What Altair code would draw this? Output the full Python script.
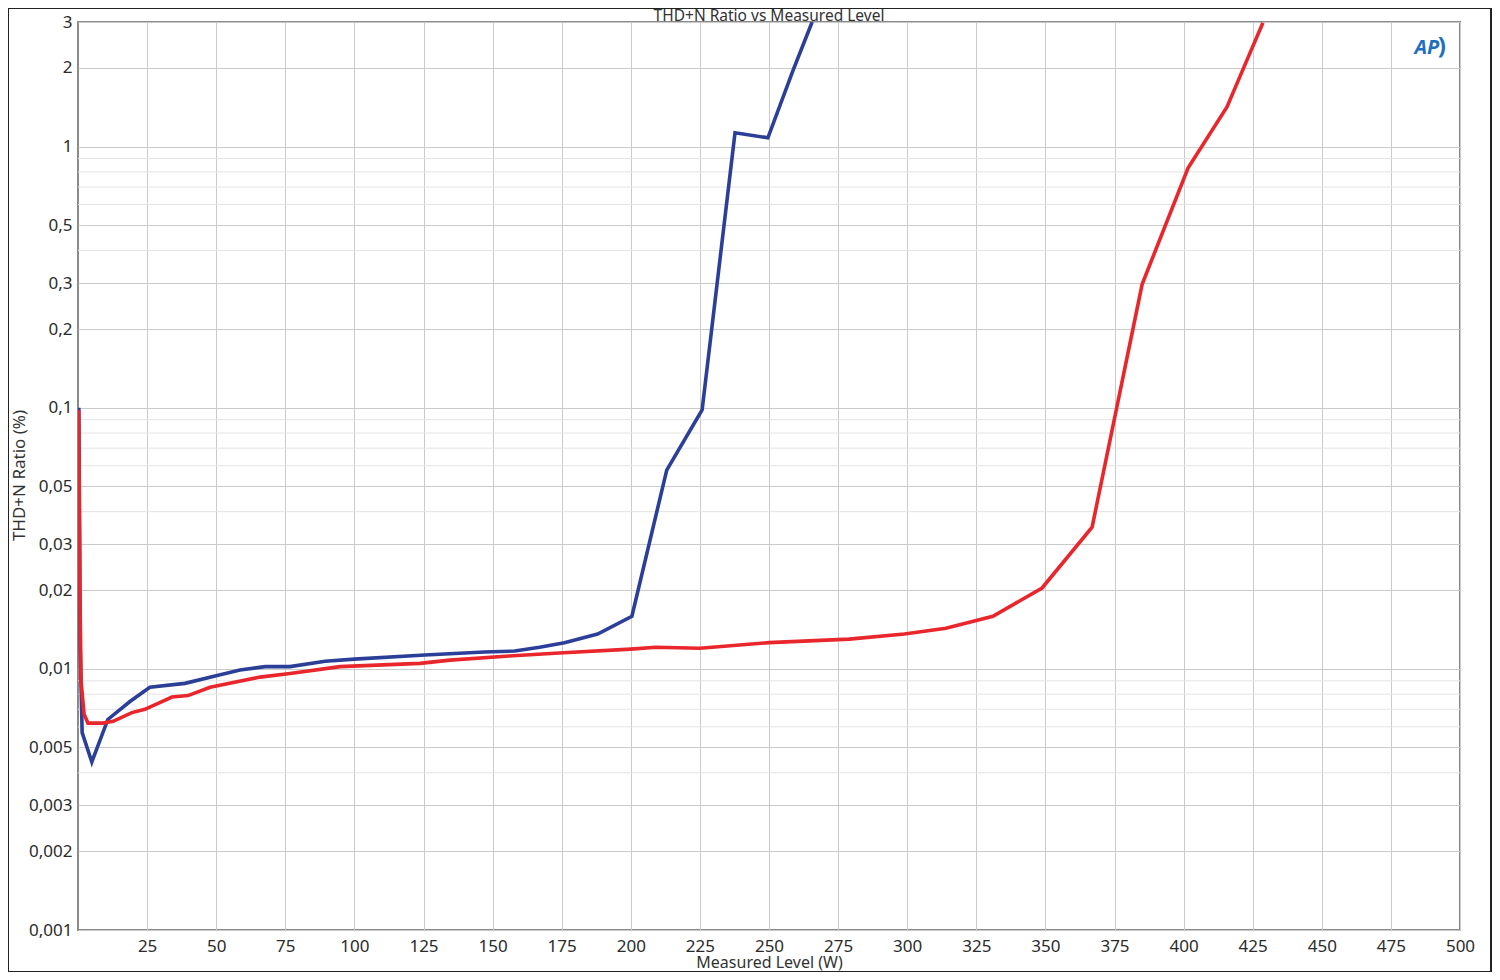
import altair as alt
import pandas as pd

# ---- data ----
blue_w = [0.3, 0.8, 1.5, 5.0, 10.8, 18.8, 26.0, 38.7, 49.6, 58.6, 67.7, 76.7, 89.4, 100.0,
          125.5, 147.0, 158.0, 167.0, 176.0, 188.0, 200.4, 213.0, 225.8, 237.7, 249.6, 258.7, 265.6]
blue_thd = [0.100, 0.012, 0.0057, 0.0044, 0.0064, 0.0075, 0.0085, 0.0088, 0.0094, 0.0099, 0.0102,
            0.0102, 0.0107, 0.0109, 0.0113, 0.0116, 0.0117, 0.0121, 0.0126, 0.0136, 0.0159, 0.0577,
            0.098, 1.13, 1.08, 1.96, 3.0]

red_w = [0.25, 0.7, 1.1, 2.2, 3.6, 9.0, 12.7, 19.5, 24.2, 34.0, 39.8, 47.8, 65.8, 76.7, 94.8,
         123.7, 134.6, 156.0, 174.0, 200.0, 209.0, 225.0, 250.0, 279.0, 299.0, 314.0, 331.0,
         348.8, 366.9, 385.0, 401.6, 415.7, 424.0, 428.7]
red_thd = [0.098, 0.02, 0.009, 0.0067, 0.0062, 0.0062, 0.0063, 0.0068, 0.0070, 0.0078, 0.0079,
           0.0085, 0.0093, 0.0096, 0.0102, 0.0105, 0.0108, 0.0112, 0.0115, 0.0119, 0.0121, 0.0120,
           0.0126, 0.0130, 0.0136, 0.0143, 0.0159, 0.0204, 0.0349, 0.297, 0.828, 1.418, 2.28, 2.98]

series_names = ["Blue", "Red"]
series_colors = ["#2c3f98", "#e8262c"]

x_ticks = [25, 50, 75, 100, 125, 150, 175, 200, 225, 250, 275, 300, 325, 350, 375, 400, 425, 450, 475, 500]
y_labels = [0.001, 0.002, 0.003, 0.005, 0.01, 0.02, 0.03, 0.05, 0.1, 0.2, 0.3, 0.5, 1, 2, 3]
y_minor = [0.004, 0.006, 0.007, 0.008, 0.009, 0.04, 0.06, 0.07, 0.08, 0.09,
           0.4, 0.6, 0.7, 0.8, 0.9]

logo_w = [488]
logo_thd = [2.38]
logo_text = ["AP"]

title_text = ["THD+N Ratio vs Measured Level"]
x_title = "Measured Level (W)"
y_title = "THD+N Ratio (%)"

# ---- chart ----
FONT = "Noto Sans"
W, H = 1382, 908

lines_df = pd.DataFrame({
    "W": blue_w + red_w,
    "THD": blue_thd + red_thd,
    "series": [series_names[0]] * len(blue_w) + [series_names[1]] * len(red_w),
})

xscale = alt.Scale(domain=[0, 500], nice=False, zero=False)
yscale = alt.Scale(type="log", domain=[0.001, 3], nice=False)

minor = alt.Chart(pd.DataFrame({"v": y_minor})).mark_rule(
    color="#e4e4e4", strokeWidth=1
).encode(y=alt.Y("v:Q", scale=yscale, axis=None))

lines = alt.Chart(lines_df).mark_line(strokeWidth=3.6, clip=True).encode(
    x=alt.X("W:Q", scale=xscale, axis=alt.Axis(
        values=x_ticks, title=x_title, grid=True, gridColor="#cacaca", gridWidth=1,
        ticks=False, domain=False, labelFontSize=17, labelPadding=8, labelColor="#2b2b2b",
        labelFlush=False, labelOverlap=False,
        titleFontSize=16, titleFontWeight="normal", titleColor="#333333",
        titleY=37, titleBaseline="alphabetic")),
    y=alt.Y("THD:Q", scale=yscale, axis=alt.Axis(
        values=y_labels, labelExpr="replace(toString(datum.value), '.', ',')",
        title=y_title, grid=True, gridColor="#cacaca", gridWidth=1,
        ticks=False, domain=False, labelFontSize=17, labelPadding=6, labelColor="#2b2b2b",
        labelOverlap=False, labelFlush=False,
        titleFontSize=17, titleFontWeight="normal", titleColor="#333333",
        titleX=-59, titleY=453, titleBaseline="middle", titleAlign="center", titleAngle=-90)),
    color=alt.Color("series:N", scale=alt.Scale(domain=series_names, range=series_colors), legend=None),
    detail="series:N",
)

logo = alt.Chart(pd.DataFrame({"W": logo_w, "THD": logo_thd, "t": logo_text})).mark_text(
    font=FONT, fontStyle="italic", fontWeight="bold", fontSize=20, color="#1f6fbf"
).encode(x=alt.X("W:Q", scale=xscale, axis=None), y=alt.Y("THD:Q", scale=yscale, axis=None), text="t:N")

logo_arc = alt.Chart(pd.DataFrame({"W": logo_w, "THD": logo_thd, "t": [")"]})).mark_text(
    font=FONT, fontWeight="bold", fontSize=24, color="#1f6fbf", dx=15, dy=-1
).encode(x=alt.X("W:Q", scale=xscale, axis=None), y=alt.Y("THD:Q", scale=yscale, axis=None), text="t:N")

frame = alt.Chart(alt.Data(values=[{"a": 1}])).mark_rect(
    fillOpacity=0, stroke="#222222", strokeWidth=2
).encode(x=alt.value(-70), x2=alt.value(1413), y=alt.value(-14), y2=alt.value(950))

title = alt.Chart(pd.DataFrame({"t": title_text})).mark_text(
    font=FONT, fontSize=15.5, color="#333333", align="center", baseline="alphabetic"
).encode(x=alt.value(W / 2), y=alt.value(-1), text="t:N")

chart = alt.layer(minor, lines, logo, logo_arc, frame, title).resolve_axis(
    x="independent", y="independent"
).properties(
    width=W, height=H,
    autosize=alt.AutoSizeParams(type="none"),
    padding={"left": 70, "top": 14, "right": 32, "bottom": 42},
    background="white",
).configure_view(stroke="#8a8a8a", strokeWidth=2).configure_axis(
    labelFont=FONT, titleFont=FONT
)

chart.save("out.html", embed_options={"renderer": "svg", "actions": False})
